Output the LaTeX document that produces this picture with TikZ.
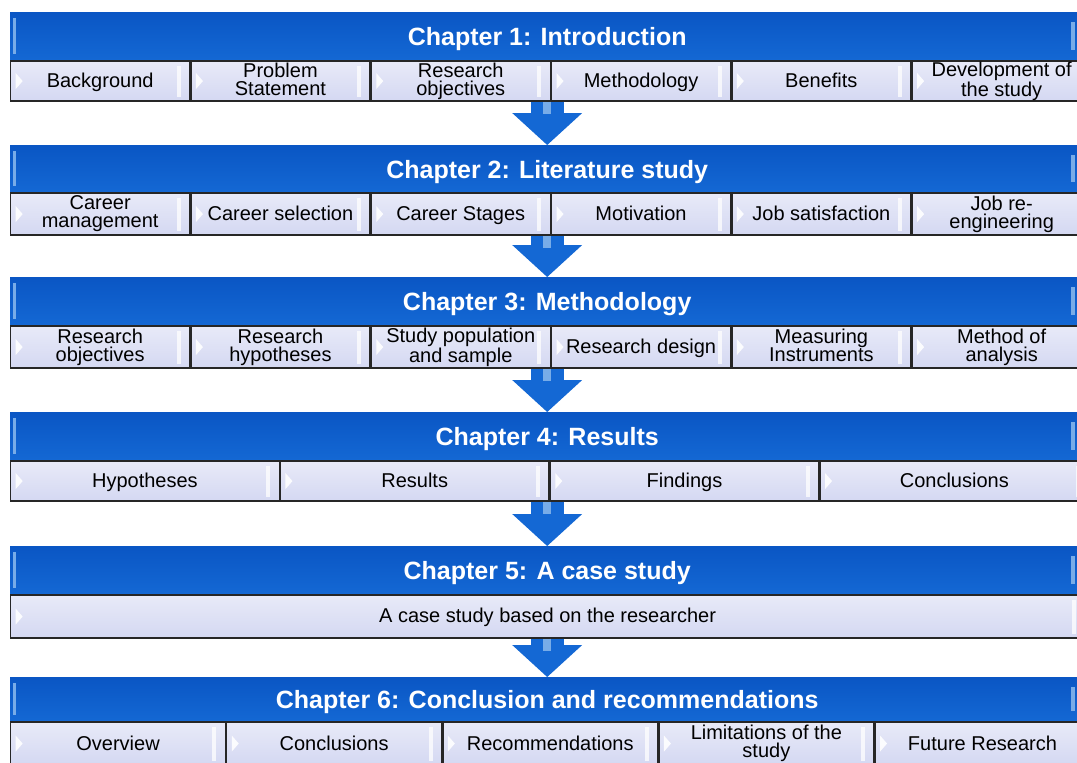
\documentclass[tikz,border=0pt]{standalone}
\usepackage{fontspec}
\setmainfont{Liberation Sans}
\usetikzlibrary{positioning,arrows.meta}

\definecolor{chapblue}{RGB}{20,104,212}
\definecolor{chapdark}{RGB}{10,86,196}
\definecolor{chaplight}{RGB}{120,172,232}
\definecolor{topicfill}{RGB}{212,216,242}
\definecolor{topiclight}{RGB}{232,234,248}

\newcommand\topstrut{\rule{0pt}{17pt}}
\newcommand\lowstrut{\rule[-4pt]{0pt}{4pt}}

\tikzset{
  chapter/.style={anchor=north west, inner sep=0pt, minimum width=1074pt, minimum height=48pt,
    top color=chapdark, bottom color=chapblue, text=white,
    text height=19pt, text depth=0pt,
    font=\fontsize{25}{28}\selectfont\bfseries,
    path picture={
      \fill[chaplight] ([xshift=3pt,yshift=-6pt]path picture bounding box.north west) rectangle ([xshift=6pt,yshift=6pt]path picture bounding box.south west);
      \fill[chaplight] ([xshift=-13pt,yshift=-10pt]path picture bounding box.north east) rectangle ([xshift=-9pt,yshift=10pt]path picture bounding box.south east);
    }},
  topic/.style={draw=black!85, line width=1.3pt, inner sep=0pt, minimum height=40pt,
    top color=topiclight, bottom color=topicfill, align=center,
    font=\fontsize{20}{18}\selectfont,
    execute at begin node=\topstrut, execute at end node=\lowstrut,
    path picture={
      \fill[white, opacity=.9] ([xshift=5pt,yshift=8pt]path picture bounding box.west) -- ([xshift=12pt]path picture bounding box.west) -- ([xshift=5pt,yshift=-8pt]path picture bounding box.west) -- cycle;
      \fill[white, opacity=.75] ([xshift=-13pt,yshift=-5pt]path picture bounding box.north east) rectangle ([xshift=-9pt,yshift=4pt]path picture bounding box.south east);
    }},
  chaparrow/.style={line width=33pt, chapblue, -{Triangle[width=70pt,length=32pt,line width=0pt]}},
  shine/.style={line width=8pt, chaplight}
}

\begin{document}
\begin{tikzpicture}[x=1pt,y=-1pt]
  \useasboundingbox (0,0) rectangle (1077,763);

  % chapter 1
  \node[chapter] (h1) at (10,12) {Chapter 1: Introduction};
  \node[topic, minimum width=179pt, anchor=north west] (b11) at (h1.south west) {Background};
  \node[topic, minimum width=179pt, right=0pt of b11] (b12) {Problem\\Statement};
  \node[topic, minimum width=179pt, right=0pt of b12] (b13) {Research\\objectives};
  \node[topic, minimum width=179pt, right=0pt of b13] (b14) {Methodology};
  \node[topic, minimum width=179pt, right=0pt of b14] (b15) {Benefits};
  \node[topic, minimum width=179pt, right=0pt of b15] (b16) {Development of\\the study};

  % chapter 2
  \node[chapter, minimum height=47pt] (h2) at (10,145) {Chapter 2: Literature study};
  \node[topic, minimum width=179pt, minimum height=42pt, anchor=north west] (b21) at (h2.south west) {Career\\management};
  \node[topic, minimum width=179pt, minimum height=42pt, right=0pt of b21] (b22) {Career selection};
  \node[topic, minimum width=179pt, minimum height=42pt, right=0pt of b22] (b23) {Career Stages};
  \node[topic, minimum width=179pt, minimum height=42pt, right=0pt of b23] (b24) {Motivation};
  \node[topic, minimum width=179pt, minimum height=42pt, right=0pt of b24] (b25) {Job satisfaction};
  \node[topic, minimum width=179pt, minimum height=42pt, right=0pt of b25] (b26) {Job re-\\engineering};

  % chapter 3
  \node[chapter] (h3) at (10,277) {Chapter 3: Methodology};
  \node[topic, minimum width=179pt, minimum height=42pt, anchor=north west] (b31) at (h3.south west) {Research\\objectives};
  \node[topic, minimum width=179pt, minimum height=42pt, right=0pt of b31] (b32) {Research\\hypotheses};
  \node[topic, minimum width=179pt, minimum height=42pt, right=0pt of b32] (b33) {Study population\\and sample};
  \node[topic, minimum width=179pt, minimum height=42pt, right=0pt of b33] (b34) {Research design};
  \node[topic, minimum width=179pt, minimum height=42pt, right=0pt of b34] (b35) {Measuring\\Instruments};
  \node[topic, minimum width=179pt, minimum height=42pt, right=0pt of b35] (b36) {Method of\\analysis};

  % chapter 4
  \node[chapter] (h4) at (10,412) {Chapter 4: Results};
  \node[topic, minimum width=268.5pt, anchor=north west] (b41) at (h4.south west) {Hypotheses};
  \node[topic, minimum width=268.5pt, right=0pt of b41] (b42) {Results};
  \node[topic, minimum width=268.5pt, right=0pt of b42] (b43) {Findings};
  \node[topic, minimum width=268.5pt, right=0pt of b43] (b44) {Conclusions};

  % chapter 5
  \node[chapter] (h5) at (10,546) {Chapter 5: A case study};
  \node[topic, minimum width=1074pt, minimum height=43pt, anchor=north west] (b51) at (h5.south west) {A case study based on the researcher};

  % chapter 6
  \node[chapter, minimum height=44pt] (h6) at (10,677) {Chapter 6: Conclusion and recommendations};
  \node[topic, minimum width=214.8pt, minimum height=43pt, anchor=north west] (b61) at (h6.south west) {Overview};
  \node[topic, minimum width=214.8pt, minimum height=43pt, right=0pt of b61] (b62) {Conclusions};
  \node[topic, minimum width=214.8pt, minimum height=43pt, right=0pt of b62] (b63) {Recommendations};
  \node[topic, minimum width=214.8pt, minimum height=43pt, right=0pt of b63] (b64) {Limitations of the\\study};
  \node[topic, minimum width=214.8pt, minimum height=43pt, right=0pt of b64] (b65) {Future Research};

  % arrows between chapters
  \draw[chaparrow] (h1.south |- b11.south) -- (h2.north);
  \draw[chaparrow] (h2.south |- b21.south) -- (h3.north);
  \draw[chaparrow] (h3.south |- b31.south) -- (h4.north);
  \draw[chaparrow] (h4.south |- b41.south) -- (h5.north);
  \draw[chaparrow] (h5.south |- b51.south) -- (h6.north);
  \draw[shine] (h1.south |- b11.south) -- ++(0,12);
  \draw[shine] (h2.south |- b21.south) -- ++(0,12);
  \draw[shine] (h3.south |- b31.south) -- ++(0,12);
  \draw[shine] (h4.south |- b41.south) -- ++(0,12);
  \draw[shine] (h5.south |- b51.south) -- ++(0,12);
\end{tikzpicture}
\end{document}
